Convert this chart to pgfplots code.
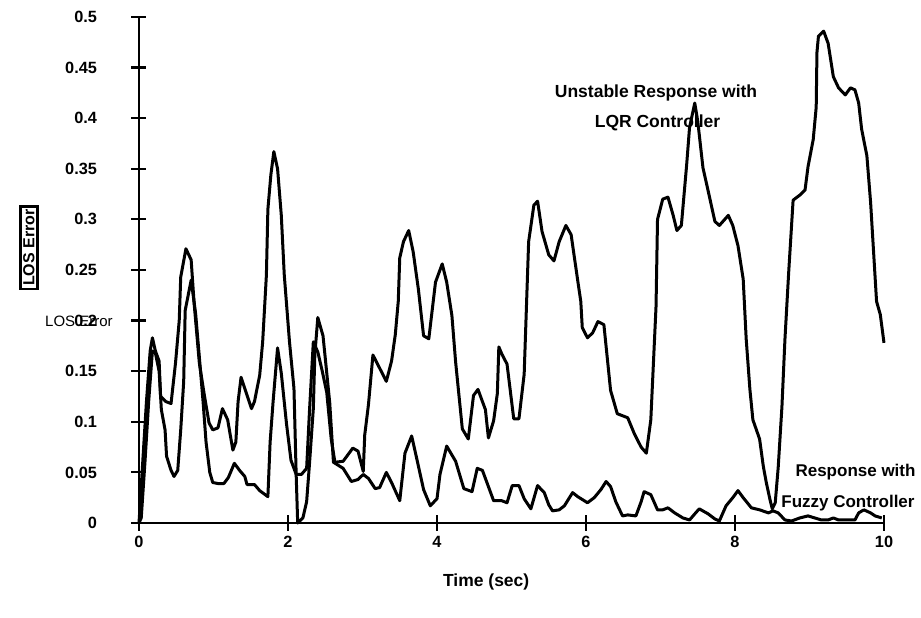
\documentclass[border=0pt]{standalone}
\usepackage{fontspec}
\setmainfont{Liberation Sans}
\usepackage{pgfplots}
\pgfplotsset{compat=1.18}

% Line-of-sight error of the two controllers
\pgfplotstableread{
t e
0 0
0.03 0.005
0.08 0.06
0.13 0.12
0.18 0.17
0.22 0.168
0.27 0.150
0.30 0.112
0.35 0.092
0.37 0.066
0.43 0.052
0.47 0.046
0.52 0.052
0.56 0.092
0.60 0.14
0.62 0.21
0.70 0.240
0.76 0.207
0.81 0.164
0.86 0.12
0.90 0.08
0.95 0.05
0.99 0.04
1.06 0.039
1.14 0.039
1.20 0.045
1.28 0.059
1.35 0.052
1.42 0.046
1.45 0.038
1.55 0.038
1.62 0.032
1.73 0.026
1.76 0.08
1.80 0.12
1.86 0.173
1.91 0.148
1.98 0.098
2.04 0.062
2.11 0.048
2.18 0.048
2.25 0.054
2.29 0.113
2.34 0.179
2.40 0.169
2.46 0.15
2.52 0.129
2.58 0.083
2.63 0.060
2.74 0.061
2.87 0.074
2.94 0.071
3.01 0.051
3.03 0.087
3.08 0.117
3.14 0.166
3.23 0.153
3.32 0.140
3.39 0.160
3.44 0.186
3.48 0.219
3.50 0.262
3.55 0.278
3.62 0.289
3.68 0.268
3.75 0.231
3.82 0.185
3.89 0.182
3.98 0.238
4.07 0.256
4.13 0.238
4.20 0.205
4.25 0.159
4.34 0.093
4.42 0.083
4.49 0.126
4.55 0.132
4.65 0.112
4.69 0.084
4.76 0.101
4.81 0.128
4.83 0.174
4.87 0.167
4.94 0.157
5.03 0.103
5.10 0.103
5.17 0.147
5.23 0.278
5.30 0.314
5.35 0.318
5.41 0.288
5.50 0.265
5.57 0.259
5.64 0.278
5.73 0.294
5.80 0.285
5.89 0.239
5.93 0.219
5.95 0.193
6.02 0.183
6.09 0.188
6.16 0.199
6.24 0.196
6.33 0.131
6.42 0.108
6.56 0.104
6.65 0.088
6.74 0.075
6.81 0.069
6.87 0.102
6.94 0.214
6.96 0.300
7.03 0.320
7.10 0.322
7.17 0.304
7.22 0.289
7.28 0.294
7.35 0.353
7.39 0.391
7.46 0.415
7.50 0.397
7.57 0.351
7.64 0.328
7.73 0.298
7.79 0.294
7.91 0.304
7.97 0.294
8.04 0.274
8.11 0.241
8.15 0.182
8.20 0.132
8.24 0.102
8.33 0.083
8.38 0.056
8.42 0.040
8.47 0.023
8.50 0.014
8.54 0.020
8.58 0.055
8.63 0.115
8.67 0.181
8.72 0.247
8.78 0.319
8.87 0.324
8.94 0.329
8.98 0.352
9.05 0.379
9.09 0.411
9.10 0.465
9.12 0.481
9.19 0.486
9.25 0.474
9.32 0.441
9.39 0.430
9.48 0.423
9.55 0.430
9.61 0.428
9.66 0.415
9.70 0.389
9.77 0.363
9.82 0.317
9.86 0.268
9.90 0.219
9.95 0.206
10.0 0.178
}\lqr

\pgfplotstableread{
t e
0 0
0.05 0.06
0.10 0.12
0.15 0.17
0.18 0.183
0.22 0.17
0.27 0.160
0.29 0.125
0.36 0.120
0.43 0.118
0.49 0.158
0.54 0.20
0.56 0.243
0.63 0.271
0.70 0.26
0.74 0.217
0.81 0.158
0.88 0.125
0.94 0.099
0.99 0.092
1.06 0.094
1.12 0.113
1.19 0.102
1.26 0.072
1.30 0.08
1.33 0.12
1.37 0.144
1.42 0.133
1.51 0.113
1.55 0.12
1.62 0.146
1.66 0.179
1.71 0.245
1.73 0.310
1.77 0.344
1.81 0.367
1.86 0.35
1.91 0.304
1.95 0.245
2.02 0.179
2.08 0.133
2.11 0.047
2.13 0.0
2.20 0.005
2.25 0.021
2.29 0.06
2.34 0.113
2.36 0.166
2.40 0.203
2.47 0.185
2.56 0.119
2.61 0.060
2.74 0.054
2.85 0.041
2.94 0.043
3.01 0.048
3.08 0.044
3.17 0.034
3.23 0.035
3.32 0.050
3.39 0.040
3.50 0.022
3.57 0.069
3.66 0.086
3.73 0.063
3.82 0.033
3.91 0.017
4.00 0.024
4.04 0.048
4.13 0.076
4.25 0.061
4.36 0.034
4.47 0.031
4.54 0.054
4.61 0.052
4.67 0.040
4.76 0.022
4.87 0.022
4.94 0.020
5.01 0.037
5.10 0.037
5.17 0.024
5.26 0.014
5.35 0.037
5.44 0.030
5.50 0.018
5.55 0.012
5.64 0.013
5.71 0.017
5.82 0.030
5.89 0.026
6.02 0.020
6.11 0.025
6.20 0.033
6.27 0.041
6.33 0.036
6.40 0.021
6.49 0.007
6.56 0.008
6.67 0.007
6.74 0.021
6.78 0.031
6.87 0.028
6.96 0.013
7.03 0.013
7.10 0.015
7.19 0.010
7.30 0.005
7.39 0.003
7.46 0.009
7.52 0.014
7.64 0.009
7.73 0.004
7.79 0.002
7.88 0.017
7.97 0.025
8.04 0.032
8.11 0.025
8.22 0.015
8.33 0.013
8.45 0.010
8.51 0.012
8.58 0.010
8.67 0.003
8.76 0.002
8.87 0.005
8.98 0.007
9.07 0.005
9.16 0.003
9.25 0.003
9.32 0.005
9.39 0.003
9.52 0.003
9.61 0.003
9.66 0.010
9.73 0.013
9.82 0.010
9.88 0.007
9.97 0.005
}\fuzzy

\begin{document}
\begin{tikzpicture}
\path[use as bounding box] (-139pt,-95pt) rectangle (782pt,523pt);
\begin{axis}[
  at={(0,0)}, anchor=south west,
  scale only axis, width=745pt, height=506pt,
  xmin=0, xmax=10, ymin=0, ymax=0.5,
  axis lines*=left,
  axis line style={line width=2.6pt},
  xtick={0,2,4,6,8,10},
  xticklabels={0,2,4,6,8,10},
  ytick={0,0.05,0.1,0.15,0.2,0.25,0.3,0.35,0.4,0.45,0.5},
  yticklabels={0,0.05,0.1,0.15,0.2,0.25,0.3,0.35,0.4,0.45,0.5},
  major tick length=15pt, tick align=center,
  tick style={line width=2.2pt, black},
  ticklabel style={font=\fontsize{16.3}{18}\selectfont\bfseries},
  yticklabel style={anchor=east, xshift=-31pt},
  xticklabel style={anchor=north, yshift=-2pt},
  clip=false,
]
\addplot[black, line width=3pt, line join=round] table[x=t, y=e] {\lqr};
\addplot[black, line width=3pt, line join=round] table[x=t, y=e] {\fuzzy};

\node[font=\fontsize{17.5}{20}\selectfont\bfseries] at (axis cs:4.66,-0.058) {Time (sec)};
\node[font=\fontsize{17.5}{20}\selectfont\bfseries, anchor=base] at (axis cs:6.94,0.420) {Unstable Response with};
\node[font=\fontsize{17.5}{20}\selectfont\bfseries, anchor=base] at (axis cs:6.96,0.391) {LQR Controller};
\node[font=\fontsize{17}{20}\selectfont\bfseries, anchor=base west, inner sep=0pt] at (axis cs:8.81,0.046) {Response with};
\node[font=\fontsize{17}{20}\selectfont\bfseries, anchor=base west, inner sep=0pt] at (axis cs:8.62,0.015) {Fuzzy Controller};
\node[font=\fontsize{15}{18}\selectfont, anchor=west, inner sep=0pt] at (axis cs:-1.262,0.199) {LOS Error};
\node[draw, line width=2.5pt, rotate=90, inner sep=3pt, font=\fontsize{16}{18}\selectfont\bfseries] at (axis cs:-1.477,0.272) {LOS Error};
\end{axis}
\end{tikzpicture}
\end{document}
